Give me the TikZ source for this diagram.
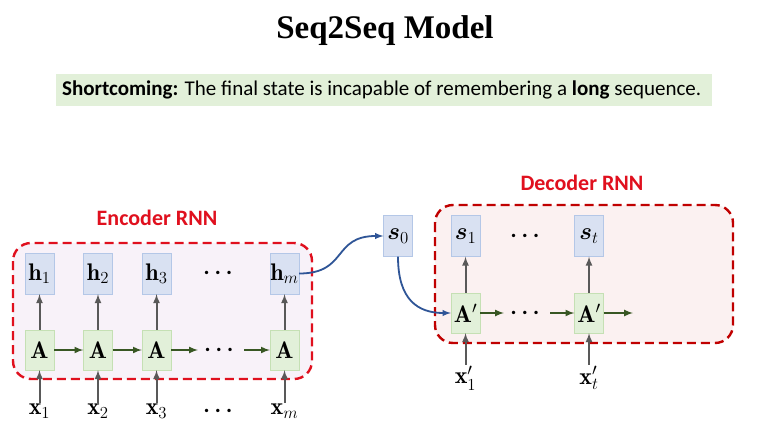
\RequirePackage{fix-cm}
\documentclass[tikz,border=0pt]{standalone}
\usepackage{fontspec}
\usepackage{amsmath,bm}
\newfontfamily\calibri{Carlito}
\newfontfamily\cambria{Liberation Serif}
\usetikzlibrary{arrows}
\definecolor{hfill}{HTML}{D9E1F2}
\definecolor{hline}{HTML}{B4C7E7}
\definecolor{afill}{HTML}{E2F0D9}
\definecolor{aline}{HTML}{C5E0B4}
\definecolor{encfill}{HTML}{F8F2F9}
\definecolor{decfill}{HTML}{FBF1F1}
\definecolor{encred}{HTML}{E0101E}
\definecolor{decred}{HTML}{C00000}
\definecolor{gray}{HTML}{595959}
\definecolor{dgreen}{HTML}{385723}
\definecolor{curveblue}{HTML}{2F5597}
\begin{document}
\begin{tikzpicture}[x=1pt, y=-1pt, >=latex,
  hbox/.style={draw=hline, fill=hfill, minimum width=29pt, minimum height=41pt, inner sep=0pt, font=\fontsize{24}{26}\selectfont},
  abox/.style={draw=aline, fill=afill, minimum width=29pt, minimum height=40pt, inner sep=0pt, font=\fontsize{24}{26}\selectfont},
  lbl/.style={inner sep=1pt, font=\fontsize{24}{26}\selectfont},
  dots/.style={inner sep=0pt, inner xsep=6pt, font=\fontsize{22}{24}\selectfont},
  up/.style={->, draw=gray, line width=2pt},
  rec/.style={->, draw=dgreen, line width=2pt},
  link/.style={->, draw=curveblue, line width=1.8pt},
  rnn/.style={dash pattern=on 9pt off 5pt, line width=2.4pt, rounded corners=18pt}]
\useasboundingbox[fill=white] (0,0) rectangle (770,433);
% title and remark
\node[font=\cambria\bfseries\fontsize{33}{35}\selectfont] (title) at (385,31) {Seq2Seq Model};
\fill[afill] (56,74) rectangle (712,106);
\node[anchor=west, inner sep=0pt, font=\calibri\fontsize{21}{23}\selectfont] (note) at (62,90)
  {\textbf{Shortcoming:} The final state is incapable of remembering a \textbf{long} sequence.};
% encoder
\draw[rnn, draw=encred, fill=encfill] (13,243) rectangle (312,379);
\node[font=\calibri\bfseries\fontsize{22}{24}\selectfont, text=encred] (enc) at (157,218) {Encoder RNN};
\foreach \i/\x in {1/39.5, 2/98, 3/156.5}
{
  \node[hbox] (h\i) at (\x,273.5) {$\mathbf{h}_\i$};
  \node[abox] (a\i) at (\x,350) {$\mathbf{A}$};
  \node[lbl] (x\i) at (\x,411) {$\mathbf{x}_\i$};
  \draw[up] (x\i) -- (a\i);
  \draw[up] (a\i) -- (h\i);
}
\node[hbox] (hm) at (284.5,273.5) {$\mathbf{h}_m$};
\node[abox] (am) at (284.5,350) {$\mathbf{A}$};
\node[lbl] (xm) at (284.5,411) {$\mathbf{x}_m$};
\draw[up] (xm) -- (am);
\draw[up] (am) -- (hm);
\node[dots] (hdots) at (220,273) {$\bm{\cdots}$};
\node[dots] (adots) at (221,350) {$\bm{\cdots}$};
\node[dots] (xdots) at (220,411) {$\bm{\cdots}$};
\draw[rec] (a1) -- (a2);
\draw[rec] (a2) -- (a3);
\draw[rec] (a3) -- (adots);
\draw[rec] (adots) -- (am);
% decoder
\draw[rnn, draw=decred, fill=decfill] (435,205) rectangle (733,343);
\node[font=\calibri\bfseries\fontsize{22}{24}\selectfont, text=encred] (dec) at (582,183) {Decoder RNN};
\node[hbox] (s0) at (398,236) {$\bm{s}_0$};
\node[hbox] (s1) at (465.5,236) {$\bm{s}_1$};
\node[hbox] (st) at (589,236) {$\bm{s}_t$};
\node[abox] (b1) at (465.5,313) {$\mathbf{A}'$};
\node[abox] (bt) at (589,313) {$\mathbf{A}'$};
\node[lbl] (y1) at (465.5,378) {$\mathbf{x}'_1$};
\node[lbl] (yt) at (589,378) {$\mathbf{x}'_t$};
\node[dots] (sdots) at (527,236) {$\bm{\cdots}$};
\node[dots] (bdots) at (527,313) {$\bm{\cdots}$};
\coordinate (bend) at (633,313);
\draw[up] (y1) -- (b1);
\draw[up] (b1) -- (s1);
\draw[up] (yt) -- (bt);
\draw[up] (bt) -- (st);
\draw[rec] (b1) -- (bdots);
\draw[rec] (bdots) -- (bt);
\draw[rec] (bt) -- (bend);
% encoder to decoder
\draw[link] (hm.east) .. controls (348,273.5) and (332,236) .. (s0.west);
\draw[link] (s0.south) .. controls (398,300) and (418,313) .. (b1.west);
\end{tikzpicture}
\end{document}
